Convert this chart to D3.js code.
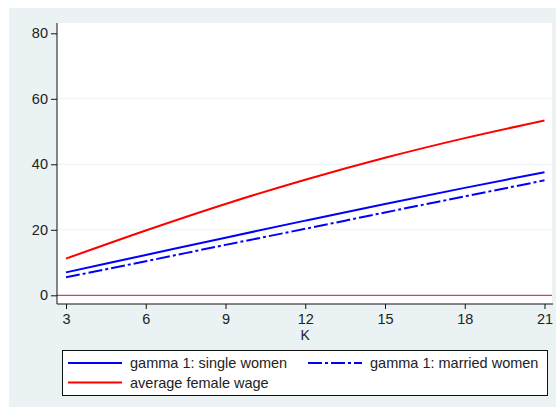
<!DOCTYPE html>
<html>
<head>
<meta charset="utf-8">
<script src="https://cdn.jsdelivr.net/npm/d3@7"></script>
<style>
body { margin: 0; background: #fff; }
svg text { font-family: "Liberation Sans", Arial, sans-serif; }
</style>
</head>
<body>
<svg id="chart" width="556" height="409"></svg>
<script>
// values
const kValues = [3, 6, 9, 12, 15, 18, 21]
const singleWomen = [7.0, 12.3, 17.6, 22.8, 27.9, 32.8, 37.6]
const marriedWomen = [5.5, 10.4, 15.4, 20.3, 25.3, 30.2, 35.1]
const femaleWage = [11.2, 19.8, 27.9, 35.3, 42.0, 48.0, 53.4]
const yTicks = [0, 20, 40, 60, 80]
const xTicks = [3, 6, 9, 12, 15, 18, 21]

const svg = d3.select('#chart')

// outer stata-like background
svg.append('rect')
  .attr('x', 9).attr('y', 8)
  .attr('width', 547).attr('height', 399)
  .attr('fill', '#eaf2f3')

const plot = {left: 57, right: 552, top: 23, bottom: 304}

svg.append('rect')
  .attr('x', plot.left).attr('y', plot.top)
  .attr('width', plot.right - plot.left).attr('height', plot.bottom - plot.top)
  .attr('fill', '#fff')

const x = d3.scaleLinear().domain([3, 21]).range([66, 544.5])
const y = d3.scaleLinear().domain([0, 80]).range([295.3, 33.3])

// grid lines
svg.append('g')
  .selectAll('line')
  .data([20, 40, 60])
  .enter().append('line')
  .attr('x1', plot.left).attr('x2', plot.right)
  .attr('y1', d => y(d)).attr('y2', d => y(d))
  .attr('stroke', '#eaf2f3')
  .attr('stroke-width', 1)

// zero reference line
svg.append('line')
  .attr('x1', plot.left).attr('x2', plot.right)
  .attr('y1', y(0)).attr('y2', y(0))
  .attr('stroke', '#c4163f')
  .attr('stroke-width', 1)

// axes
const yAxis = svg.append('g')
  .attr('transform', 'translate(' + plot.left + ',0)')
  .call(d3.axisLeft(y).tickValues(yTicks).tickSize(6).tickPadding(3))
yAxis.select('.domain').attr('d', 'M0,' + plot.top + 'V' + plot.bottom)

const xAxis = svg.append('g')
  .attr('transform', 'translate(0,' + plot.bottom + ')')
  .call(d3.axisBottom(x).tickValues(xTicks).tickSize(5).tickPadding(5))
xAxis.select('.domain').attr('d', 'M' + plot.left + ',0H' + (plot.right + 1))

svg.selectAll('.tick text')
  .attr('font-size', 14.5)
  .attr('fill', '#222')
  .style('font-family', '"Liberation Sans", Arial, sans-serif')
svg.selectAll('.domain, .tick line').attr('stroke', '#111')

svg.append('text')
  .attr('x', x(12)).attr('y', 340)
  .attr('text-anchor', 'middle')
  .attr('font-size', 14)
  .attr('fill', '#222')
  .text('K')

// lines
const series = [
  {name: 'gamma 1: single women', values: singleWomen, color: '#0000ff', dash: null},
  {name: 'gamma 1: married women', values: marriedWomen, color: '#0000ff', dash: '14,3,3,3'},
  {name: 'average female wage', values: femaleWage, color: '#ff0000', dash: null}
]

const line = d3.line()
  .x((d, i) => x(kValues[i]))
  .y(d => y(d))
  .curve(d3.curveMonotoneX)

svg.append('g')
  .selectAll('path')
  .data(series)
  .enter().append('path')
  .attr('d', d => line(d.values))
  .attr('fill', 'none')
  .attr('stroke', d => d.color)
  .attr('stroke-width', 2)
  .attr('stroke-dasharray', d => d.dash)

// legend
svg.append('rect')
  .attr('x', 62.5).attr('y', 350.5)
  .attr('width', 485).attr('height', 45)
  .attr('fill', '#fff')
  .attr('stroke', '#111')

const legendPos = [[68, 363], [308, 363], [68, 382.5]]
const items = svg.append('g')
  .selectAll('g')
  .data(series)
  .enter().append('g')
  .attr('transform', (d, i) => 'translate(' + legendPos[i] + ')')

items.append('line')
  .attr('x1', 0).attr('x2', 54)
  .attr('stroke', d => d.color)
  .attr('stroke-width', 2)
  .attr('stroke-dasharray', d => d.dash)

items.append('text')
  .attr('x', 62).attr('y', 5)
  .attr('font-size', 14.5)
  .attr('fill', '#222')
  .text(d => d.name)
</script>
</body>
</html>
